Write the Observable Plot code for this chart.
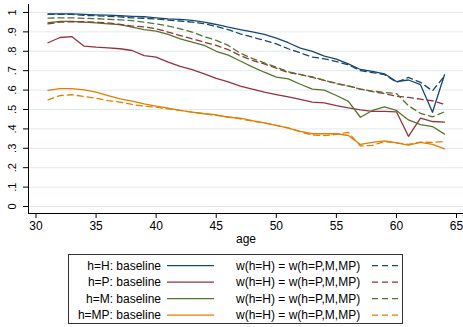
<!DOCTYPE html>
<html><head><meta charset="utf-8">
<script src="https://cdn.jsdelivr.net/npm/d3@7"></script>
<script src="https://cdn.jsdelivr.net/npm/@observablehq/plot@0.6"></script>
<style>
body{margin:0;background:#fff;font-family:"Liberation Sans",Arial,sans-serif;}
#wrap{position:relative;width:463px;height:327px;overflow:hidden;}
#legend{position:absolute;left:0;top:250px;}
</style></head><body><div id="wrap"><div id="chart"></div><div id="legend"></div></div>
<script>
const ages = [31,32,33,34,35,36,37,38,39,40,41,42,43,44,45,46,47,48,49,50,51,52,53,54,55,56,57,58,59,60,61,62,63,64];
const hBase = [0.993,0.993,0.993,0.990,0.988,0.986,0.983,0.980,0.978,0.972,0.967,0.964,0.959,0.950,0.938,0.924,0.912,0.900,0.887,0.868,0.844,0.816,0.799,0.775,0.760,0.735,0.706,0.696,0.684,0.644,0.652,0.628,0.486,0.679];
const hAlt  = [0.990,0.990,0.990,0.985,0.983,0.980,0.977,0.972,0.970,0.966,0.961,0.956,0.950,0.942,0.928,0.911,0.890,0.873,0.856,0.838,0.813,0.792,0.770,0.761,0.747,0.730,0.700,0.690,0.680,0.640,0.665,0.640,0.596,0.672];
const pBase = [0.844,0.871,0.875,0.826,0.821,0.818,0.813,0.804,0.778,0.770,0.744,0.722,0.705,0.684,0.660,0.642,0.620,0.605,0.590,0.577,0.565,0.552,0.538,0.534,0.520,0.508,0.498,0.490,0.490,0.488,0.362,0.455,0.438,0.435];
const pAlt  = [0.941,0.950,0.952,0.952,0.950,0.946,0.938,0.930,0.926,0.916,0.899,0.881,0.864,0.847,0.830,0.808,0.778,0.753,0.735,0.713,0.690,0.681,0.665,0.650,0.635,0.622,0.605,0.592,0.582,0.568,0.562,0.553,0.545,0.526];
const mBase = [0.947,0.954,0.954,0.950,0.946,0.941,0.937,0.924,0.911,0.904,0.887,0.864,0.847,0.830,0.800,0.780,0.750,0.720,0.692,0.667,0.658,0.630,0.605,0.600,0.572,0.542,0.460,0.495,0.513,0.495,0.446,0.422,0.412,0.373];
const mAlt  = [0.971,0.972,0.972,0.970,0.968,0.965,0.962,0.958,0.950,0.941,0.930,0.916,0.899,0.875,0.856,0.830,0.790,0.763,0.740,0.718,0.694,0.680,0.668,0.650,0.633,0.620,0.605,0.595,0.588,0.582,0.520,0.480,0.462,0.488];
const mpBase = [0.598,0.607,0.607,0.601,0.589,0.572,0.555,0.543,0.529,0.517,0.507,0.495,0.486,0.478,0.472,0.460,0.455,0.443,0.431,0.418,0.404,0.387,0.375,0.375,0.375,0.366,0.320,0.330,0.338,0.328,0.316,0.330,0.320,0.297];
const mpAlt  = [0.550,0.572,0.576,0.567,0.558,0.546,0.538,0.526,0.517,0.512,0.503,0.495,0.486,0.478,0.470,0.462,0.452,0.440,0.430,0.418,0.405,0.385,0.368,0.365,0.372,0.382,0.312,0.315,0.335,0.328,0.320,0.332,0.330,0.335];

const yTicks = [0,0.1,0.2,0.3,0.4,0.5,0.6,0.7,0.8,0.9,1];
const yTickLabels = ["0",".1",".2",".3",".4",".5",".6",".7",".8",".9","1"];
const xTicks = [30,35,40,45,50,55,60,65];
const baseLabels = ["h=H: baseline","h=P: baseline","h=M: baseline","h=MP: baseline"];
const altLabel = "w(h=H) = w(h=P,M,MP)";
const colors = ["#1a476f","#90353b","#55752f","#e37e00"];

const baseSeries = [hBase,pBase,mBase,mpBase];
const altSeries = [hAlt,pAlt,mAlt,mpAlt];

const xDomain = [29.376, 65.58];
const yDomain = [-0.036, 1.041];

const lineMarks = [];
baseSeries.forEach((vals, k) => {
  const rows = ages.map((a,i)=>({age:a, v:vals[i]}));
  lineMarks.push(Plot.line(rows, {x:"age", y:"v", stroke:colors[k], strokeWidth:1.3}));
});
altSeries.forEach((vals, k) => {
  const rows = ages.map((a,i)=>({age:a, v:vals[i]}));
  lineMarks.push(Plot.line(rows, {x:"age", y:"v", stroke:colors[k], strokeWidth:1.3, strokeDasharray:"6,4"}));
});

const chart = Plot.plot({
  width:463, height:250,
  marginLeft:28, marginRight:0, marginTop:4, marginBottom:37,
  x:{domain:xDomain},
  y:{domain:yDomain},
  style:{fontFamily:'"Liberation Sans",Arial,sans-serif', fontSize:"12px", background:"#fff", color:"#000"},
  marks:[
    Plot.ruleY(yTicks, {stroke:"#e1eaea", strokeWidth:1}),
    ...lineMarks,
    Plot.ruleX([xDomain[0]], {stroke:"#000", strokeWidth:1}),
    Plot.ruleY([yDomain[0]], {stroke:"#000", strokeWidth:1}),
    Plot.axisY(yTicks, {tickSize:5, tickFormat:()=>"", label:null, stroke:"#000"}),
    Plot.text(yTicks, {x:xDomain[0], y:d=>d, text:(d,i)=>yTickLabels[i], rotate:-90, dx:-16, textAnchor:"middle", lineAnchor:"middle", fontSize:11}),
    Plot.axisX(xTicks, {tickSize:5, tickPadding:3, fontSize:12, label:null, stroke:"#000"}),
    Plot.text(["age"], {frameAnchor:"bottom", text:d=>d, dy:26, lineAnchor:"middle", fontSize:12})
  ]
});
document.getElementById("chart").appendChild(chart);

// legend
const lg = d3.select("#legend").append("svg").attr("width",463).attr("height",77)
  .style("font-family",'"Liberation Sans",Arial,sans-serif').style("font-size","12px");
lg.append("rect").attr("x",68.5).attr("y",4.5).attr("width",334).attr("height",69)
  .attr("fill","#fff").attr("stroke","#333").attr("stroke-width",1);
baseLabels.forEach((lab,i)=>{
  const cy = 15.7 + i*16.5;
  lg.append("text").attr("x",161).attr("y",cy+4.2).attr("text-anchor","end").text(lab);
  lg.append("line").attr("x1",167).attr("x2",214).attr("y1",cy).attr("y2",cy)
    .attr("stroke",colors[i]).attr("stroke-width",1.3);
  lg.append("text").attr("x",236).attr("y",cy+4.2).attr("text-anchor","start").text(altLabel);
  lg.append("line").attr("x1",372).attr("x2",400).attr("y1",cy).attr("y2",cy)
    .attr("stroke",colors[i]).attr("stroke-width",1.3).attr("stroke-dasharray","6,4");
});
</script>
</body></html>
